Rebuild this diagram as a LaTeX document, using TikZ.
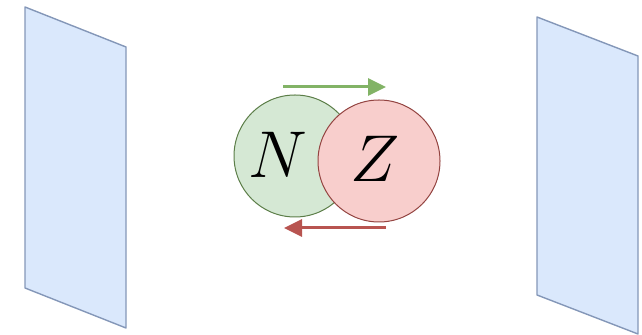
\documentclass[tikz,border=0pt]{standalone}
\usepackage{graphicx}
\usepackage{tikz}
\usetikzlibrary{arrows.meta,positioning,calc}

\definecolor{plateFill}{HTML}{DAE8FC}
\definecolor{plateLine}{HTML}{8497B8}
\definecolor{nFill}{HTML}{D5E8D4}
\definecolor{nLine}{HTML}{82B366}
\definecolor{zFill}{HTML}{F8CECC}
\definecolor{zLine}{HTML}{B85450}

\newcommand{\biglabel}[1]{\scalebox{1.33}{\Huge$#1$}}

\begin{document}
\begin{tikzpicture}[x=0.5pt, y=-0.5pt,
  plate/.style={fill=plateFill, draw=plateLine, line width=0.7pt, line join=round},
  nucleon/.style={circle, inner sep=0pt, minimum size=61pt, line width=0.5pt},
  nuclabel/.style={inner sep=0pt},
  flow/.style={line width=1.5pt, -{Triangle[length=9pt,width=8.5pt]}}]
  % Frame
  \useasboundingbox (0,0) rectangle (642,335);

  % Plates
  \draw[plate] (25,7) -- (126,47) -- (126,328) -- (25,288) -- cycle;
  \draw[plate] (537,17) -- (638,56) -- (638,334) -- (537,295) -- cycle;

  % Nucleons
  \node[nucleon, fill=nFill, draw=nLine!70!black] (neutron) at (295,156) {};
  \node[nucleon, fill=zFill, draw=zLine!80!black] (proton) at (379,161) {};
  \node[nuclabel] (nlabel) at ([xshift=-8.5pt, yshift=0.5pt]neutron.center) {\biglabel{N}};
  \node[nuclabel] (zlabel) at ([xshift=-2pt, yshift=1pt]proton.center) {\biglabel{Z}};

  % Exchange arrows
  \coordinate (gstart) at (283,87);
  \coordinate (gend) at (386,87);
  \coordinate (rstart) at (386,228);
  \coordinate (rend) at (284,228);
  \draw[flow, draw=nLine, fill=nLine] (gstart) -- (gend);
  \draw[flow, draw=zLine, fill=zLine] (rstart) -- (rend);
\end{tikzpicture}
\end{document}
